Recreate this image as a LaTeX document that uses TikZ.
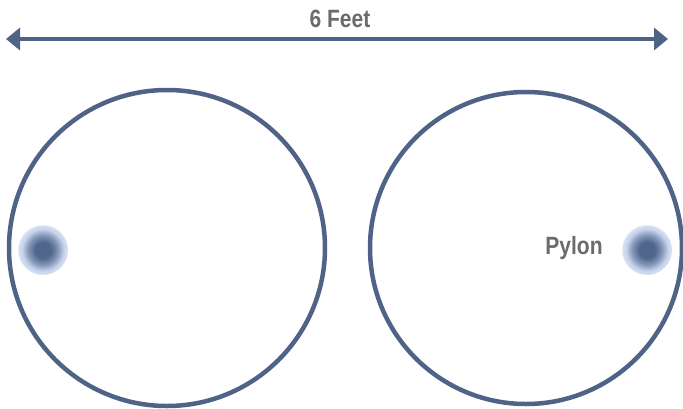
\documentclass[tikz,border=0pt]{standalone}
\usepackage{fontspec}
\newfontfamily\cond[FakeStretch=0.84]{Liberation Sans}
\usetikzlibrary{arrows.meta}
\definecolor{slate}{HTML}{4F6387}
\definecolor{pyd}{HTML}{51668C}
\definecolor{pyl}{HTML}{C6D4EC}
\definecolor{txt}{HTML}{6B6B6D}
\pgfdeclareradialshading{pylonshade}{\pgfpoint{0bp}{0bp}}{color(0bp)=(pyd); color(8bp)=(pyd); color(15bp)=(pyd!55!pyl); color(21bp)=(pyl); color(24bp)=(pyl!80!white); color(25bp)=(pyl!40!white); color(50bp)=(white)}
\begin{document}
\begin{tikzpicture}[x=1pt,y=-1pt,
  ring/.style={draw=slate,line width=4.5pt},
  lbl/.style={text=txt,font=\cond\bfseries\fontsize{25}{25}\selectfont,inner sep=0pt},
  pylon/.style={shading=pylonshade}]
\useasboundingbox (0,0) rectangle (683,408);
\coordinate (aL) at (6,39);
\coordinate (aR) at (668,39);
\draw[slate,line width=4pt,{Triangle[length=14pt,width=22pt]}-{Triangle[length=14pt,width=22pt]}] (aL) -- (aR);
\node[lbl] (feet) at (340,19) {6 Feet};
\node[ring,circle,minimum size=316pt,inner sep=0pt] (c1) at (167,248) {};
\node[ring,circle,minimum size=312pt,inner sep=0pt] (c2) at (526,248) {};
\shade[pylon] (43,250) circle (25);
\shade[pylon] (647,250) circle (25);
\node[lbl] (py) at (574,248) {Pylon};
\end{tikzpicture}
\end{document}
